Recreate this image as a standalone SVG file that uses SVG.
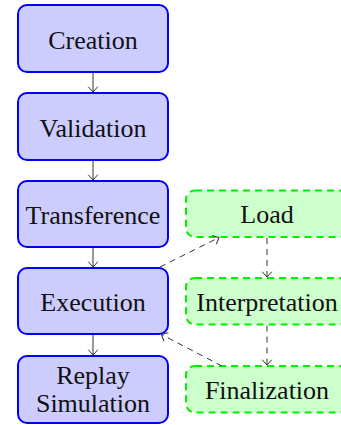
<svg xmlns="http://www.w3.org/2000/svg" width="341" height="425" viewBox="0 0 341 425">
  <style>
    .stage rect { fill: #ccccff; stroke: #0000ff; stroke-width: 2; }
    .step rect { fill: #ccffcc; stroke: #00ee00; stroke-width: 2; stroke-dasharray: 7 5; }
    text { font-family: "Liberation Serif", "Times New Roman", serif; font-size: 26px; fill: #111; text-anchor: middle; }
    .flow { stroke: #333; stroke-width: 1; fill: none; marker-end: url(#tip); }
    .aux { stroke-dasharray: 6 5; }
  </style>
  <defs>
    <marker id="tip" markerUnits="userSpaceOnUse" viewBox="-7 -6 9 12" refX="0" refY="0" markerWidth="9" markerHeight="12" orient="auto" overflow="visible">
      <path d="M -5 -4.5 Q -1.5 -1.5 0 0 Q -1.5 1.5 -5 4.5" fill="none" stroke="#333" stroke-width="1" stroke-linecap="round"/>
    </marker>
  </defs>

  <!-- main pipeline -->
  <g id="creation" class="stage">
    <rect x="18" y="5" width="150" height="67" rx="9"/>
    <text x="93" y="49">Creation</text>
  </g>
  <g id="validation" class="stage">
    <rect x="18" y="93" width="150" height="67" rx="9"/>
    <text x="93" y="137">Validation</text>
  </g>
  <g id="transference" class="stage">
    <rect x="18" y="181" width="150" height="66" rx="9"/>
    <text x="93" y="224">Transference</text>
  </g>
  <g id="execution" class="stage">
    <rect x="18" y="268" width="150" height="66" rx="9"/>
    <text x="93" y="311">Execution</text>
  </g>
  <g id="replay" class="stage">
    <rect x="18" y="356" width="150" height="67" rx="9"/>
    <text x="93" y="383.5">Replay</text>
    <text x="93" y="412">Simulation</text>
  </g>

  <!-- execution sub-steps -->
  <g id="load" class="step">
    <rect x="186" y="190.5" width="162" height="46.5" rx="9"/>
    <text x="267" y="223">Load</text>
  </g>
  <g id="interpretation" class="step">
    <rect x="186" y="278" width="162" height="46.5" rx="9"/>
    <text x="267" y="310.5">Interpretation</text>
  </g>
  <g id="finalization" class="step">
    <rect x="186" y="366" width="162" height="46.5" rx="9"/>
    <text x="267" y="398.5">Finalization</text>
  </g>

  <!-- connectors -->
  <g id="connectors">
    <line class="flow" x1="93" y1="73" x2="93" y2="92"/>
    <line class="flow" x1="93" y1="161" x2="93" y2="180"/>
    <line class="flow" x1="93" y1="248" x2="93" y2="267"/>
    <line class="flow" x1="93" y1="335" x2="93" y2="355"/>
    <line class="flow aux" x1="160" y1="267" x2="219" y2="237.5"/>
    <line class="flow aux" x1="267" y1="238" x2="267" y2="277"/>
    <line class="flow aux" x1="267" y1="325.5" x2="267" y2="365"/>
    <line class="flow aux" x1="222" y1="366" x2="161.5" y2="334.5"/>
  </g>
</svg>
